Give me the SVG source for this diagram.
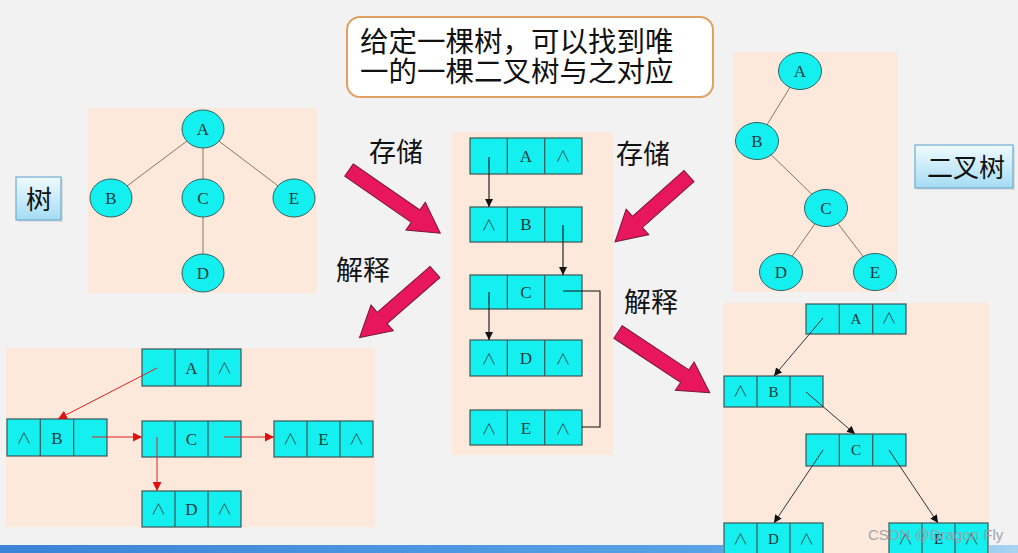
<svg xmlns="http://www.w3.org/2000/svg" width="1018" height="553" viewBox="0 0 1018 553">
<defs>
<linearGradient id="lblg" x1="0" y1="0" x2="0" y2="1"><stop offset="0" stop-color="#f0fbff"/><stop offset="1" stop-color="#a4dcf4"/></linearGradient>
<linearGradient id="barg" x1="0" y1="0" x2="1" y2="0"><stop offset="0" stop-color="#3b84d6"/><stop offset="0.7" stop-color="#5aa2e6"/><stop offset="1" stop-color="#a8d4f2"/></linearGradient>
<marker id="ab" viewBox="0 0 10 10" refX="10" refY="5" markerWidth="8" markerHeight="8" orient="auto" markerUnits="userSpaceOnUse"><path d="M0,0 L10,5 L0,10 z" fill="#111"/></marker>
<marker id="ar" viewBox="0 0 10 10" refX="10" refY="5" markerWidth="9" markerHeight="9" orient="auto" markerUnits="userSpaceOnUse"><path d="M0,0 L10,5 L0,10 z" fill="#e01010"/></marker>
<style>
.panel{fill:#fce9dc}
.ell{fill:#14f0f0;stroke:#2d6464;stroke-width:1}
.edge{stroke:#8a7464;stroke-width:1;fill:none}
.cell{fill:#14f0f0;stroke:#3b5656;stroke-width:1.2}
.sep{stroke:#3b5656;stroke-width:1.2}
.lt{font-family:"Liberation Serif",serif;font-size:17px;fill:#1e3a3a;text-anchor:middle}
.lt2{font-family:"Liberation Serif",serif;font-size:15px;fill:#1e3a3a;text-anchor:middle}
.nl{font-family:"Noto Sans CJK SC","DejaVu Sans",sans-serif;font-size:15px;font-weight:300;fill:#2a4444;text-anchor:middle}
.cjk{font-family:"Noto Sans CJK SC","Noto Sans",sans-serif;fill:#111}
.blk{fill:#e8175d;stroke:#7a1535;stroke-width:1}
.bl{stroke:#111;stroke-width:1.1;fill:none}
.rd{stroke:#e02020;stroke-width:1;fill:none}
.bk{stroke:#333;stroke-width:1;fill:none}
.lbl{fill:url(#lblg);stroke:#6cacce;stroke-width:1.2}
</style>
</defs>
<rect width="1018" height="553" fill="#f2f2f2"/>
<rect x="0" y="545" width="1018" height="8" fill="url(#barg)"/>

<g id="callout">
<rect x="347" y="17" width="366" height="80" rx="13" fill="#fff" stroke="#e2a060" stroke-width="2"/>
<text class="cjk" x="360" y="52" font-size="28.5">给定一棵树，可以找到唯</text>
<text class="cjk" x="360" y="82" font-size="28.5">一的一棵二叉树与之对应</text>
</g>

<g id="label-tree">
<rect x="18" y="179" width="45" height="43" fill="#c8c8c8" opacity="0.5"/>
<rect x="16" y="177" width="45" height="43" class="lbl"/>
<text class="cjk" x="39" y="209" font-size="26" text-anchor="middle">树</text>
</g>
<g id="label-bintree">
<rect x="917" y="147" width="98" height="43" fill="#c8c8c8" opacity="0.5"/>
<rect x="915" y="145" width="98" height="43" class="lbl"/>
<text class="cjk" x="966" y="177" font-size="26" text-anchor="middle">二叉树</text>
</g>

<g id="verbs">
<text class="cjk" x="369" y="162" font-size="27">存储</text>
<text class="cjk" x="616" y="164" font-size="27">存储</text>
<text class="cjk" x="336" y="280" font-size="27">解释</text>
<text class="cjk" x="624" y="312" font-size="27">解释</text>
</g>

<rect class="panel" x="88" y="108" width="229" height="185"/>
<rect class="panel" x="733" y="52" width="165" height="240"/>
<rect class="panel" x="452" y="132" width="161" height="323"/>
<rect class="panel" x="6" y="348" width="369" height="179"/>
<rect class="panel" x="723" y="303" width="266" height="250"/>

<g id="block-arrows">
<polygon class="blk" points="0,-7.5 81,-7.5 81,-17 111,0 81,17 81,7.5 0,7.5" transform="translate(349,170) rotate(34.7)"/>
<polygon class="blk" points="0,-7.5 69,-7.5 69,-17 99,0 69,17 69,7.5 0,7.5" transform="translate(689,176) rotate(138.3)"/>
<polygon class="blk" points="0,-7.5 70,-7.5 70,-17 100,0 70,17 70,7.5 0,7.5" transform="translate(435,272) rotate(139)"/>
<polygon class="blk" points="0,-7.5 80,-7.5 80,-17 110,0 80,17 80,7.5 0,7.5" transform="translate(618,332) rotate(33.5)"/>
</g>

<g id="connectors">
<line class="edge" x1="203" y1="129" x2="111" y2="198"/>
<line class="edge" x1="203" y1="129" x2="203" y2="198"/>
<line class="edge" x1="203" y1="129" x2="294" y2="198"/>
<line class="edge" x1="203" y1="198" x2="203" y2="273"/>
<line class="edge" x1="800" y1="71" x2="757" y2="141"/>
<line class="edge" x1="757" y1="141" x2="826" y2="208"/>
<line class="edge" x1="826" y1="208" x2="781" y2="272"/>
<line class="edge" x1="826" y1="208" x2="875" y2="272"/>
</g>

<g id="t-A"><ellipse class="ell" cx="203" cy="129" rx="21" ry="19"/><text class="lt" x="203" y="135">A</text></g>
<g id="t-B"><ellipse class="ell" cx="111" cy="198" rx="21" ry="19"/><text class="lt" x="111" y="204">B</text></g>
<g id="t-C"><ellipse class="ell" cx="203" cy="198" rx="21" ry="19"/><text class="lt" x="203" y="204">C</text></g>
<g id="t-E"><ellipse class="ell" cx="294" cy="198" rx="21" ry="19"/><text class="lt" x="294" y="204">E</text></g>
<g id="t-D"><ellipse class="ell" cx="203" cy="273" rx="21" ry="19"/><text class="lt" x="203" y="279">D</text></g>

<g id="b-A"><ellipse class="ell" cx="800" cy="71" rx="21.5" ry="18.5"/><text class="lt" x="800" y="77">A</text></g>
<g id="b-B"><ellipse class="ell" cx="757" cy="141" rx="21.5" ry="18.5"/><text class="lt" x="757" y="147">B</text></g>
<g id="b-C"><ellipse class="ell" cx="826" cy="208" rx="21.5" ry="18.5"/><text class="lt" x="826" y="214">C</text></g>
<g id="b-D"><ellipse class="ell" cx="781" cy="272" rx="21.5" ry="18.5"/><text class="lt" x="781" y="278">D</text></g>
<g id="b-E"><ellipse class="ell" cx="875" cy="272" rx="21.5" ry="18.5"/><text class="lt" x="875" y="278">E</text></g>

<g id="s-A"><rect class="cell" x="470" y="138" width="112" height="36"/><line class="sep" x1="507.3" y1="138" x2="507.3" y2="174"/><line class="sep" x1="544.7" y1="138" x2="544.7" y2="174"/><text class="lt" x="526" y="162">A</text><text class="nl" x="563" y="161">∧</text></g>
<g id="s-B"><rect class="cell" x="470" y="207" width="112" height="35"/><line class="sep" x1="507.3" y1="207" x2="507.3" y2="242"/><line class="sep" x1="544.7" y1="207" x2="544.7" y2="242"/><text class="nl" x="489" y="230">∧</text><text class="lt" x="526" y="230">B</text></g>
<g id="s-C"><rect class="cell" x="470" y="275" width="112" height="34"/><line class="sep" x1="507.3" y1="275" x2="507.3" y2="309"/><line class="sep" x1="544.7" y1="275" x2="544.7" y2="309"/><text class="lt" x="526" y="298">C</text></g>
<g id="s-D"><rect class="cell" x="470" y="340" width="112" height="36"/><line class="sep" x1="507.3" y1="340" x2="507.3" y2="376"/><line class="sep" x1="544.7" y1="340" x2="544.7" y2="376"/><text class="nl" x="489" y="364">∧</text><text class="lt" x="526" y="364">D</text><text class="nl" x="563" y="364">∧</text></g>
<g id="s-E"><rect class="cell" x="470" y="410" width="112" height="35"/><line class="sep" x1="507.3" y1="410" x2="507.3" y2="445"/><line class="sep" x1="544.7" y1="410" x2="544.7" y2="445"/><text class="nl" x="489" y="434">∧</text><text class="lt" x="526" y="434">E</text><text class="nl" x="563" y="434">∧</text></g>

<g id="storage-links">
<line class="bl" x1="489" y1="157" x2="489" y2="207" marker-end="url(#ab)"/>
<line class="bl" x1="563" y1="225" x2="563" y2="275" marker-end="url(#ab)"/>
<line class="bl" x1="489" y1="292" x2="489" y2="340" marker-end="url(#ab)"/>
<polyline class="bl" points="563,291 600,291 600,427 582,427"/>
</g>

<g id="l-A"><rect class="cell" x="142" y="349" width="99" height="37"/><line class="sep" x1="175" y1="349" x2="175" y2="386"/><line class="sep" x1="208" y1="349" x2="208" y2="386"/><text class="lt" x="191.5" y="374">A</text><text class="nl" x="224.5" y="373">∧</text></g>
<g id="l-B"><rect class="cell" x="7" y="419" width="100" height="37"/><line class="sep" x1="40.3" y1="419" x2="40.3" y2="456"/><line class="sep" x1="73.7" y1="419" x2="73.7" y2="456"/><text class="nl" x="24" y="443">∧</text><text class="lt" x="57" y="444">B</text></g>
<g id="l-C"><rect class="cell" x="142" y="421" width="99" height="36"/><line class="sep" x1="175" y1="421" x2="175" y2="457"/><line class="sep" x1="208" y1="421" x2="208" y2="457"/><text class="lt" x="191.5" y="445">C</text></g>
<g id="l-E"><rect class="cell" x="274" y="421" width="99" height="36"/><line class="sep" x1="307" y1="421" x2="307" y2="457"/><line class="sep" x1="340" y1="421" x2="340" y2="457"/><text class="nl" x="290.5" y="444">∧</text><text class="lt" x="323.5" y="445">E</text><text class="nl" x="356.5" y="444">∧</text></g>
<g id="l-D"><rect class="cell" x="142" y="491" width="99" height="36"/><line class="sep" x1="175" y1="491" x2="175" y2="527"/><line class="sep" x1="208" y1="491" x2="208" y2="527"/><text class="nl" x="158.5" y="514">∧</text><text class="lt" x="191.5" y="515">D</text><text class="nl" x="224.5" y="514">∧</text></g>

<g id="red-links">
<line class="rd" x1="157" y1="368" x2="58" y2="419" marker-end="url(#ar)"/>
<line class="rd" x1="92" y1="437" x2="142" y2="437" marker-end="url(#ar)"/>
<line class="rd" x1="157" y1="437" x2="157" y2="491" marker-end="url(#ar)"/>
<line class="rd" x1="224" y1="437" x2="274" y2="437" marker-end="url(#ar)"/>
</g>

<g id="r-A"><rect class="cell" x="806" y="304" width="100" height="30"/><line class="sep" x1="839.3" y1="304" x2="839.3" y2="334"/><line class="sep" x1="872.7" y1="304" x2="872.7" y2="334"/><text class="lt2" x="856" y="324">A</text><text class="nl" x="889" y="323">∧</text></g>
<g id="r-B"><rect class="cell" x="724" y="376" width="99" height="31"/><line class="sep" x1="757" y1="376" x2="757" y2="407"/><line class="sep" x1="790" y1="376" x2="790" y2="407"/><text class="nl" x="740.5" y="396">∧</text><text class="lt2" x="773.5" y="397">B</text></g>
<g id="r-C"><rect class="cell" x="806" y="434" width="100" height="32"/><line class="sep" x1="839.3" y1="434" x2="839.3" y2="466"/><line class="sep" x1="872.7" y1="434" x2="872.7" y2="466"/><text class="lt2" x="856" y="455">C</text></g>
<g id="r-D"><rect class="cell" x="724" y="523" width="99" height="34"/><line class="sep" x1="757" y1="523" x2="757" y2="557"/><line class="sep" x1="790" y1="523" x2="790" y2="557"/><text class="nl" x="740.5" y="544">∧</text><text class="lt2" x="773.5" y="544">D</text><text class="nl" x="806.5" y="544">∧</text></g>
<g id="r-E"><rect class="cell" x="889" y="523" width="99" height="34"/><line class="sep" x1="922" y1="523" x2="922" y2="557"/><line class="sep" x1="955" y1="523" x2="955" y2="557"/><text class="nl" x="905.5" y="544">∧</text><text class="lt2" x="938.5" y="544">E</text><text class="nl" x="971.5" y="544">∧</text></g>

<g id="black-links">
<line class="bk" x1="823" y1="318" x2="774" y2="376" marker-end="url(#ab)"/>
<line class="bk" x1="806" y1="392" x2="855" y2="434" marker-end="url(#ab)"/>
<line class="bk" x1="823" y1="450" x2="774" y2="523" marker-end="url(#ab)"/>
<line class="bk" x1="889" y1="450" x2="938" y2="523" marker-end="url(#ab)"/>
</g>

<text x="868" y="540" font-family="Liberation Sans,sans-serif" font-size="15" fill="#9aa0a6" opacity="0.9">CSDN @Dragon Fly</text>
</svg>
